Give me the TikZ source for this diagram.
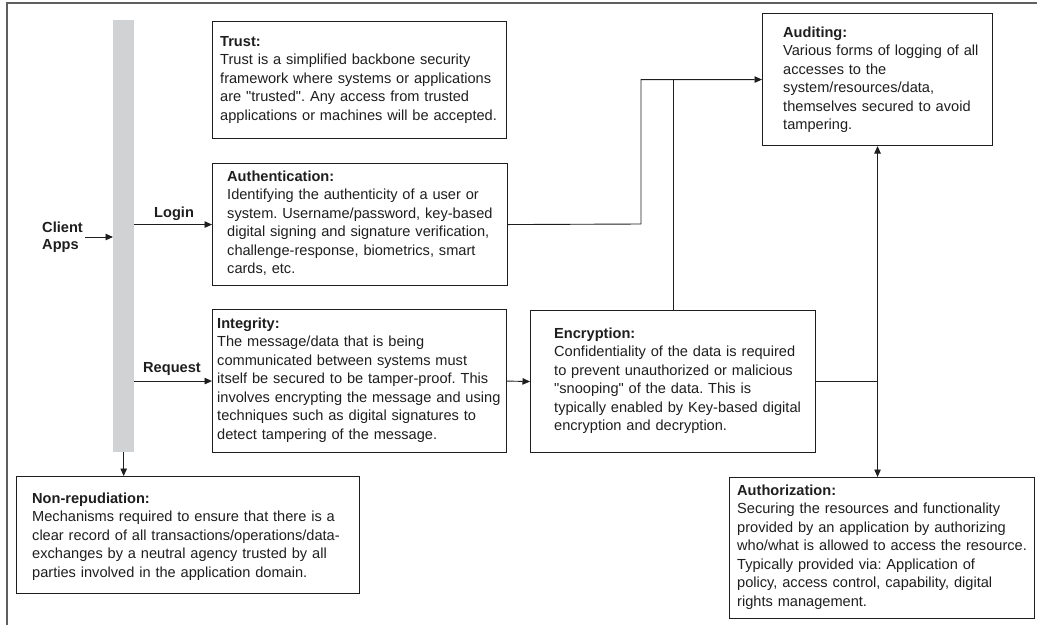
\documentclass[tikz,border=0pt]{standalone}
\usepackage{fontspec}
\setmainfont{Liberation Sans}[Ligatures=TeXOff]
\usetikzlibrary{arrows.meta}

\definecolor{barfill}{RGB}{209,210,212}
\definecolor{framegray}{RGB}{95,95,95}
\definecolor{ink}{RGB}{30,30,30}

\tikzset{
  card/.style={draw=ink, line width=1.1pt, anchor=north west, inner sep=0pt},
  cardtext/.style={anchor=base west, inner sep=0pt, text width=360pt, align=left,
    font=\fontsize{14.6}{18.5}\selectfont\frenchspacing, text=ink},
  tag/.style={anchor=base west, inner sep=0pt, align=left,
    font=\fontsize{14.6}{17}\selectfont\bfseries, text=ink},
  wire/.style={draw=ink, line width=0.9pt},
  arr/.style={wire, -{Triangle[length=7.5pt,width=6.5pt]}}
}

\begin{document}
\begin{tikzpicture}[x=1pt,y=-1pt]
\useasboundingbox (0,0) rectangle (1037,625);

% frame
\draw[framegray, line width=1.4pt] (7,625) -- (7,3) -- (1037,3);

% client bus
\node[fill=barfill, anchor=north west, inner sep=0pt, minimum width=21pt, minimum height=432pt] (bar) at (113,20) {};

% boxes
\node[card, minimum width=294pt, minimum height=117pt] (trust)  at (212,21)  {};
\node[card, minimum width=295pt, minimum height=122pt] (auth)   at (212,163) {};
\node[card, minimum width=294pt, minimum height=143pt] (integ)  at (212,309) {};
\node[card, minimum width=285pt, minimum height=142pt] (enc)    at (530,310) {};
\node[card, minimum width=230pt, minimum height=132pt] (audit)  at (762,13)  {};
\node[card, minimum width=305pt, minimum height=141pt] (authz)  at (729,477) {};
\node[card, minimum width=343pt, minimum height=117pt] (nonrep) at (16,476)  {};

% box texts, one line per row
\node[cardtext] (trustT) at (220,46) {\textbf{Trust:}\\
Trust is a simplified backbone security\\
framework where systems or applications\\
are "trusted". Any access from trusted\\
applications or machines will be accepted.};

\node[cardtext] (authT) at (227,181) {\textbf{Authentication:}\\
Identifying the authenticity of a user or\\
system. Username/password, key-based\\
digital signing and signature verification,\\
challenge-response, biometrics, smart\\
cards, etc.};

\node[cardtext] (integT) at (217,328) {\textbf{Integrity:}\\
The message/data that is being\\
communicated between systems must\\
itself be secured to be tamper-proof. This\\
involves encrypting the message and using\\
techniques such as digital signatures to\\
detect tampering of the message.};

\node[cardtext] (encT) at (554,338) {\textbf{Encryption:}\\
Confidentiality of the data is required\\
to prevent unauthorized or malicious\\
"snooping" of the data. This is\\
typically enabled by Key-based digital\\
encryption and decryption.};

\node[cardtext] (auditT) at (783,37) {\textbf{Auditing:}\\
Various forms of logging of all\\
accesses to the\\
system/resources/data,\\
themselves secured to avoid\\
tampering.};

\node[cardtext] (authzT) at (737,495) {\textbf{Authorization:}\\
Securing the resources and functionality\\
provided by an application by authorizing\\
who/what is allowed to access the resource.\\
Typically provided via: Application of\\
policy, access control, capability, digital\\
rights management.};

\node[cardtext] (nonrepT) at (32,503) {\textbf{Non-repudiation:}\\
Mechanisms required to ensure that there is a\\
clear record of all transactions/operations/data-\\
exchanges by a neutral agency trusted by all\\
parties involved in the application domain.};

% labels
\node[tag, anchor=east, align=left] (client) at (83,237) {Client\\Apps};
\node[tag] (login) at (154,217) {Login};
\node[tag] (request) at (143,372) {Request};

% connectors
\draw[arr] ([xshift=2pt]client.east) -- (client.east -| bar.west);
\draw[arr] (auth.west -| bar.east) -- (auth.west);
\draw[arr] (integ.west -| bar.east) -- (integ.west);
\draw[arr] (bar.south) -- (bar.south |- nonrep.north);
\draw[arr] (integ.east) -- (enc.west);

\coordinate (jog) at (641,224);
\draw[arr] (auth.east) -- (jog) |- (audit.west);
\draw[wire] (enc.north) -- (enc.north |- audit.west);

\coordinate (tee) at (enc.east -| audit.south);
\draw[wire] (enc.east) -- (tee);
\draw[arr] (tee) -- (audit.south);
\draw[arr] (tee) -- (tee |- authz.north);
\end{tikzpicture}
\end{document}
